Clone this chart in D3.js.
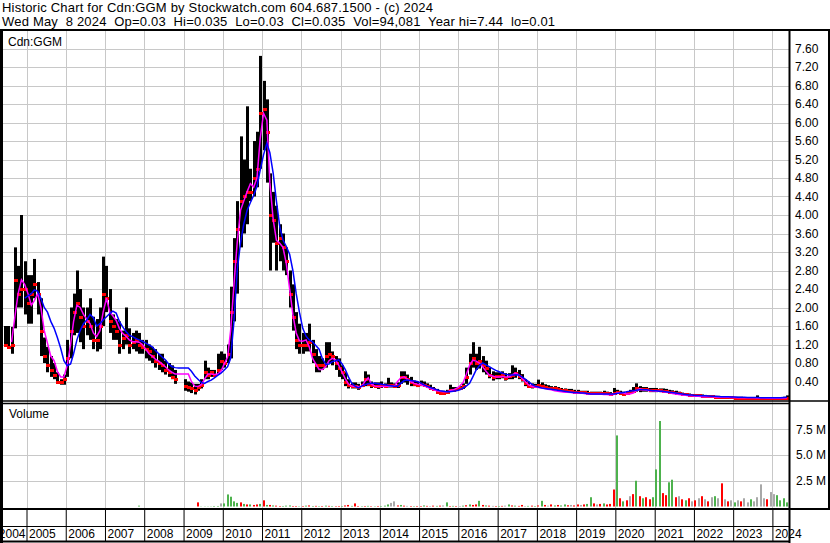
<!DOCTYPE html>
<html>
<head>
<meta charset="utf-8">
<script src="https://cdn.jsdelivr.net/npm/d3@7"></script>
<style>
  body { margin: 0; background: #fff; }
  text { font-family: "Liberation Sans", Arial, sans-serif; }
</style>
</head>
<body>
<svg id="chart" width="830" height="543"></svg>
<script>
// ---- data (one entry per month, Jun 2004 .. May 2024) ----
var headerLines = [
  "Historic Chart for Cdn:GGM by Stockwatch.com 604.687.1500 - (c) 2024",
  "Wed May  8 2024  Op=0.03  Hi=0.035  Lo=0.03  Cl=0.035  Vol=94,081  Year hi=7.44  lo=0.01"
];
var firstMonth = [2004, 5]; // June 2004

var priceHigh = [
  1.6, 1.6, 1.58, 3.3, 2.9, 4.0, 3.0,
  2.7, 2.7, 3.05, 2.55, 2.2, 1.35, 1.15, 0.95, 0.8, 0.6, 0.45, 0.55,
  1.3, 2.0, 2.3, 2.8, 2.4, 2.0, 2.0, 2.2, 1.8, 1.75, 2.0, 3.1,
  2.9, 2.4, 1.85, 1.75, 1.7, 1.5, 2.0, 1.55, 1.45, 1.5, 1.45, 1.3,
  1.3, 1.2, 1.15, 1.1, 1.0, 1.0, 0.85, 0.8, 0.75, 0.65, null, null,
  0.45, 0.4, 0.38, 0.35, 0.35, 0.45, 0.85, 0.7, 0.65, 0.65, 1.0, 1.05,
  1.0, 1.2, 2.45, 3.5, 4.3, 5.7, 5.2, 6.35, 5.0, 5.6, 5.8, 7.44,
  6.9, 6.5, 4.9, 4.5, 4.2, 3.8, 3.6, 3.3, 2.8, 2.5, 1.9, 1.65,
  1.45, 1.45, 1.65, 1.3, 1.1, 0.95, 0.9, 1.25, 1.25, 1.05, 0.95, 0.9,
  0.75, 0.6, 0.45, 0.38, 0.38, 0.35, 0.4, 0.62, 0.55, 0.4, 0.38, 0.38,
  0.4, 0.36, 0.48, 0.38, 0.36, 0.38, 0.62, 0.62, 0.55, 0.5, 0.42, 0.4,
  0.42, 0.4, 0.36, 0.33, 0.28, 0.24, 0.2, 0.2, 0.22, 0.33, 0.28, 0.28,
  0.3, 0.36, 0.7, 1.0, 1.25, 1.0, 1.15, 0.95, 0.85, 0.7, 0.62, 0.6,
  0.6, 0.62, 0.58, 0.58, 0.75, 0.7, 0.65, 0.56, 0.45, 0.4, 0.36, 0.35,
  0.44, 0.38, 0.34, 0.32, 0.3, 0.3, 0.28, 0.26, 0.25, 0.24, 0.24, 0.22,
  0.22, 0.2, 0.2, 0.2, 0.18, 0.18, 0.18, 0.18, 0.2, 0.18, 0.17, 0.26,
  0.22, 0.2, 0.18, 0.18, 0.22, 0.28, 0.36, 0.3, 0.28, 0.28, 0.26, 0.26,
  0.26, 0.25, 0.25, 0.24, 0.22, 0.21, 0.2, 0.18, 0.16, 0.15, 0.14, 0.13,
  0.13, 0.12, 0.12, 0.11, 0.1, 0.1, 0.09, 0.09, 0.08, 0.08, 0.08, 0.08,
  0.07, 0.07, 0.07, 0.06, 0.06, 0.06, 0.06, 0.1, 0.06, 0.06, 0.05, 0.05,
  0.05, 0.05, 0.06, 0.07, 0.1
];
var priceLow = [
  1.15, 1.15, 1.0, 1.55, 2.0, 2.0, 1.85,
  1.65, 1.65, 2.2, 1.85, 0.95, 0.8, 0.6, 0.5, 0.45, 0.35, 0.33, 0.33,
  0.5, 0.9, 1.4, 1.45, 1.25, 1.1, 1.4, 1.3, 1.1, 1.05, 1.1, 1.6,
  1.9, 1.45, 1.3, 1.3, 1.0, 1.1, 1.2, 1.0, 1.1, 1.05, 1.0, 1.0,
  0.9, 0.85, 0.8, 0.7, 0.65, 0.6, 0.55, 0.5, 0.45, 0.35, null, null,
  0.2, 0.18, 0.15, 0.12, 0.2, 0.25, 0.45, 0.45, 0.5, 0.5, 0.55, 0.65,
  0.7, 0.8, 0.9, 1.7, 2.3, 3.3, 3.6, 3.8, 4.3, 4.4, 4.6, 5.0,
  5.4, 4.7, 2.8, 3.4, 2.8, 3.0, 2.8, 2.7, 2.0, 1.5, 1.1, 1.0,
  1.0, 1.05, 1.05, 0.8, 0.6, 0.6, 0.65, 0.7, 0.8, 0.75, 0.65, 0.5,
  0.45, 0.3, 0.25, 0.25, 0.25, 0.22, 0.28, 0.3, 0.3, 0.26, 0.26, 0.24,
  0.26, 0.27, 0.27, 0.27, 0.26, 0.26, 0.35, 0.38, 0.33, 0.3, 0.3, 0.28,
  0.3, 0.3, 0.28, 0.22, 0.2, 0.14, 0.13, 0.13, 0.14, 0.18, 0.18, 0.2,
  0.22, 0.24, 0.35, 0.55, 0.7, 0.65, 0.68, 0.6, 0.55, 0.47, 0.42, 0.45,
  0.45, 0.47, 0.42, 0.45, 0.45, 0.48, 0.45, 0.4, 0.3, 0.26, 0.25, 0.26,
  0.27, 0.26, 0.25, 0.24, 0.22, 0.22, 0.2, 0.18, 0.18, 0.16, 0.16, 0.15,
  0.15, 0.14, 0.14, 0.14, 0.12, 0.12, 0.12, 0.12, 0.13, 0.12, 0.11, 0.12,
  0.13, 0.13, 0.1, 0.11, 0.13, 0.15, 0.18, 0.17, 0.18, 0.18, 0.17, 0.17,
  0.17, 0.17, 0.16, 0.16, 0.15, 0.14, 0.13, 0.12, 0.11, 0.1, 0.09, 0.09,
  0.09, 0.08, 0.08, 0.07, 0.07, 0.06, 0.06, 0.06, 0.05, 0.05, 0.05, 0.05,
  0.04, 0.04, 0.04, 0.04, 0.035, 0.035, 0.035, 0.03, 0.03, 0.03, 0.03, 0.03,
  0.025, 0.02, 0.02, 0.03, 0.01
];
var priceClose = [
  1.2, 1.15, 1.2, 2.6, 2.3, 2.4, 2.4,
  2.1, 2.3, 2.5, 2.3, 1.5, 0.95, 0.75, 0.65, 0.55, 0.4, 0.38, 0.45,
  0.9, 1.5, 1.9, 2.1, 1.8, 1.6, 1.7, 1.6, 1.3, 1.3, 1.6, 2.3,
  2.2, 1.7, 1.6, 1.5, 1.2, 1.35, 1.4, 1.2, 1.25, 1.3, 1.2, 1.15,
  1.1, 1.05, 0.95, 0.85, 0.8, 0.75, 0.65, 0.6, 0.5, 0.45, null, null,
  0.3, 0.28, 0.25, 0.22, 0.28, 0.33, 0.6, 0.55, 0.6, 0.55, 0.65, 0.85,
  0.8, 1.0, 1.9, 3.0, 3.7, 4.3, 4.4, 4.5, 4.5, 4.8, 5.0, 6.2,
  6.3, 5.8, 4.0, 3.9, 3.4, 3.5, 3.3, 3.0, 2.3, 1.8, 1.3, 1.2,
  1.2, 1.2, 1.25, 1.0, 0.75, 0.75, 0.75, 0.95, 1.0, 0.95, 0.8, 0.7,
  0.6, 0.4, 0.32, 0.3, 0.3, 0.28, 0.33, 0.45, 0.35, 0.32, 0.3, 0.3,
  0.32, 0.3, 0.32, 0.32, 0.3, 0.32, 0.5, 0.5, 0.45, 0.38, 0.35, 0.33,
  0.35, 0.33, 0.3, 0.26, 0.23, 0.18, 0.16, 0.16, 0.18, 0.22, 0.22, 0.24,
  0.26, 0.3, 0.5, 0.8, 0.9, 0.8, 0.85, 0.75, 0.7, 0.55, 0.5, 0.52,
  0.52, 0.55, 0.48, 0.52, 0.55, 0.58, 0.52, 0.45, 0.36, 0.3, 0.3, 0.3,
  0.33, 0.3, 0.28, 0.27, 0.25, 0.25, 0.23, 0.21, 0.21, 0.2, 0.19, 0.18,
  0.18, 0.17, 0.17, 0.16, 0.15, 0.15, 0.15, 0.15, 0.16, 0.15, 0.14, 0.16,
  0.17, 0.16, 0.13, 0.15, 0.17, 0.2, 0.26, 0.24, 0.23, 0.23, 0.22, 0.22,
  0.22, 0.21, 0.2, 0.2, 0.18, 0.17, 0.16, 0.15, 0.13, 0.12, 0.11, 0.11,
  0.1, 0.1, 0.09, 0.09, 0.08, 0.08, 0.07, 0.07, 0.06, 0.06, 0.06, 0.06,
  0.05, 0.05, 0.05, 0.05, 0.045, 0.045, 0.045, 0.05, 0.045, 0.04, 0.04, 0.04,
  0.035, 0.03, 0.035, 0.04, 0.035
];
// magenta (short) and blue (long) moving averages as drawn
var maFast = [
  null, null, 1.25, 1.8, 2.3, 2.6, 2.5,
  2.3, 2.05, 2.15, 2.3, 2.0, 1.5, 1.23, 0.95, 0.85, 0.62, 0.5, 0.5,
  0.75, 1.2, 1.7, 2.05, 2.0, 1.85, 1.75, 1.65, 1.45, 1.37, 1.5, 1.9,
  2.2, 1.9, 1.82, 1.72, 1.55, 1.44, 1.38, 1.3, 1.26, 1.26, 1.25, 1.2,
  1.1, 1.0, 0.95, 0.88, 0.84, 0.78, 0.72, 0.65, 0.6, 0.56, 0.56, 0.56,
  0.56, 0.56, 0.4, 0.3, 0.29, 0.33, 0.45, 0.56, 0.56, 0.55, 0.56, 0.62,
  0.78, 0.93, 1.5, 2.5, 3.4, 4.1, 4.3, 4.5, 4.68, 4.6, 4.8, 5.65,
  6.2, 6.05, 4.7, 3.9, 3.45, 3.39, 3.3, 2.95, 2.4, 1.85, 1.45, 1.28,
  1.27, 1.3, 1.15, 0.9, 0.78, 0.66, 0.66, 0.72, 0.85, 0.9, 0.87, 0.75,
  0.6, 0.45, 0.35, 0.3, 0.29, 0.29, 0.29, 0.4, 0.48, 0.34, 0.3, 0.29,
  0.29, 0.29, 0.3, 0.3, 0.3, 0.4, 0.48, 0.5, 0.45, 0.4, 0.36, 0.34,
  0.33, 0.31, 0.28, 0.25, 0.22, 0.2, 0.19, 0.18, 0.18, 0.2, 0.22, 0.25,
  0.3, 0.38, 0.55, 0.75, 0.86, 0.84, 0.8, 0.72, 0.62, 0.54, 0.52, 0.5,
  0.5, 0.51, 0.5, 0.5, 0.54, 0.58, 0.55, 0.47, 0.4, 0.33, 0.29, 0.28,
  0.27, 0.26, 0.25, 0.23, 0.22, 0.2, 0.19, 0.18, 0.17, 0.17, 0.16, 0.15,
  0.15, 0.15, 0.14, 0.13, 0.13, 0.13, 0.13, 0.13, 0.12, 0.12, 0.11, 0.12,
  0.15, 0.16, 0.15, 0.13, 0.13, 0.15, 0.2, 0.24, 0.22, 0.21, 0.2, 0.2,
  0.19, 0.19, 0.18, 0.17, 0.16, 0.14, 0.13, 0.12, 0.11, 0.1, 0.09, 0.09,
  0.08, 0.08, 0.07, 0.07, 0.07, 0.07, 0.065, 0.06, 0.06, 0.06, 0.06, 0.055,
  0.055, 0.05, 0.05, 0.05, 0.05, 0.05, 0.05, 0.045, 0.045, 0.045, 0.04, 0.04,
  0.04, 0.04, 0.04, 0.045, 0.05
];
var maSlow = [
  null, null, null, null, null, null, 2.2,
  2.25, 2.3, 2.38, 2.35, 2.2, 2.0, 1.9, 1.7, 1.55, 1.35, 1.12, 0.85,
  0.74, 0.78, 1.0, 1.3, 1.5, 1.65, 1.73, 1.85, 1.78, 1.6, 1.65, 1.73,
  1.8, 1.87, 1.92, 1.88, 1.7, 1.58, 1.48, 1.4, 1.37, 1.33, 1.3, 1.27,
  1.23, 1.19, 1.15, 1.07, 1.0, 0.93, 0.87, 0.78, 0.72, 0.7, 0.69, 0.69,
  0.69, 0.69, 0.62, 0.52, 0.45, 0.38, 0.36, 0.4, 0.43, 0.48, 0.53, 0.58,
  0.65, 0.72, 0.9, 1.7, 2.8, 3.4, 3.8, 4.1, 4.27, 4.42, 4.62, 4.97,
  5.3, 5.55, 5.35, 4.9, 4.3, 3.75, 3.46, 3.32, 3.15, 2.8, 2.3, 1.9,
  1.55, 1.38, 1.3, 1.26, 1.18, 1.1, 0.9, 0.77, 0.78, 0.83, 0.85, 0.87,
  0.78, 0.65, 0.5, 0.36, 0.3, 0.26, 0.3, 0.33, 0.35, 0.36, 0.36, 0.35,
  0.34, 0.33, 0.32, 0.31, 0.3, 0.3, 0.36, 0.42, 0.43, 0.42, 0.41, 0.4,
  0.37, 0.33, 0.3, 0.27, 0.25, 0.22, 0.2, 0.19, 0.18, 0.18, 0.19, 0.2,
  0.22, 0.26, 0.3, 0.36, 0.5, 0.65, 0.74, 0.8, 0.76, 0.72, 0.68, 0.64,
  0.61, 0.58, 0.56, 0.54, 0.54, 0.54, 0.54, 0.5, 0.45, 0.4, 0.34, 0.3,
  0.28, 0.26, 0.25, 0.24, 0.23, 0.22, 0.21, 0.2, 0.19, 0.18, 0.17, 0.16,
  0.16, 0.15, 0.15, 0.14, 0.13, 0.13, 0.13, 0.13, 0.13, 0.13, 0.13, 0.13,
  0.14, 0.15, 0.16, 0.18, 0.19, 0.2, 0.21, 0.22, 0.22, 0.22, 0.21, 0.2,
  0.2, 0.19, 0.19, 0.18, 0.17, 0.16, 0.15, 0.14, 0.13, 0.12, 0.11, 0.11,
  0.1, 0.1, 0.09, 0.09, 0.085, 0.08, 0.08, 0.075, 0.07, 0.07, 0.07, 0.065,
  0.065, 0.06, 0.06, 0.06, 0.055, 0.055, 0.055, 0.055, 0.05, 0.05, 0.05, 0.05,
  0.05, 0.05, 0.05, 0.055, 0.06
];
// volume in millions of shares, G = up, R = down, N = unchanged
var volume = [
  0, 0, 0, 0, 0, 0, 0,
  0, 0, 0, 0, 0, 0, 0, 0, 0, 0, 0, 0,
  0, 0, 0, 0, 0, 0, 0, 0, 0, 0, 0, 0,
  0, 0, 0, 0, 0, 0, 0, 0, 0, 0, 0.08, 0,
  0, 0, 0, 0, 0, 0, 0, 0, 0, 0, 0, 0,
  0, 0, 0, 0, 0.4, 0.02, 0.02, 0.02, 0.02, 0.05, 0.05, 0.3,
  0.3, 1.17, 0.95, 0.5, 0.35, 0.4, 0.25, 0.2, 0.2, 0.15, 0.2, 0.25,
  0.6, 0.15, 0.15, 0.1, 0.08, 0.05, 0.05, 0.08, 0.1, 0.05, 0.05, 0.03,
  0.05, 0.08, 0.1, 0.05, 0.06, 0.04, 0.05, 0.08, 0.06, 0.05, 0.04, 0.05,
  0.05, 0.1, 0.15, 0.06, 0.3, 0.05, 0.04, 0.05, 0.06, 0.04, 0.03, 0.05,
  0.05, 0.08, 0.2, 0.35, 0.5, 0.1, 0.15, 0.08, 0.06, 0.05, 0.04, 0.05,
  0.05, 0.1, 0.06, 0.05, 0.08, 0.06, 0.08, 0.1, 0.4, 0.05, 0.06, 0.05,
  0.05, 0.08, 0.12, 0.2, 0.15, 0.2, 0.55, 0.15, 0.1, 0.08, 0.06, 0.05,
  0.05, 0.06, 0.08, 0.2, 0.1, 0.08, 0.06, 0.15, 0.05, 0.06, 0.08, 0.05,
  0.1, 0.55, 0.15, 0.08, 0.2, 0.1, 0.15, 0.1, 0.2, 0.12, 0.15, 0.1,
  0.2, 0.15, 0.2, 0.25, 0.9, 0.3, 0.2, 0.25, 0.3, 0.2, 0.25, 1.65,
  6.9, 0.8, 0.5, 0.6, 1.0, 1.2, 2.5, 1.0, 0.8, 0.9, 0.7, 0.9,
  3.6, 8.3, 1.3, 1.1, 2.35, 2.6, 0.9, 1.0, 0.7, 0.6, 0.8, 0.5,
  0.6, 0.8, 1.0, 0.7, 0.5, 0.9, 1.0, 0.8, 2.25, 0.7, 0.5, 0.6,
  0.4, 0.6, 0.5, 0.8, 0.4, 0.7, 0.5, 0.9, 2.15, 0.8, 0.7, 1.4,
  1.2, 1.1, 0.6, 0.8, 0.4
];
var volumeColor = (
  "GGGGGGG" +
  "GGGGGGGGGGGG" + "GGGGGGGGGGGG" + "GGGGGGGGGGGG" + "GGGGGGGGGGGG" +
  "GGGGRGGGGGGN" +
  "GGGGGRGRGRRG" + "RGRGRRGGGRRG" + "RGRGRGRGRGRR" + "GRRGRRGRGRGR" +
  "GGGNNRGRNRGR" + "RGRNRGRNGRGR" + "NGRGRRGRGRNR" + "GRNGRGRRNGRG" +
  "RGRNRGRGGRNR" + "RNRGGRNRGRRR" + "GRGRNRGRGRRG" + "GGRRGGRNRGRN" +
  "RNRNRNGNRNRN" + "GNRNNGNNNNRN" +
  "NGGGG"
).split("");

var priceTicks = [0.4, 0.8, 1.2, 1.6, 2.0, 2.4, 2.8, 3.2, 3.6, 4.0,
                  4.4, 4.8, 5.2, 5.6, 6.0, 6.4, 6.8, 7.2, 7.6];
var volumeTicks = [2.5, 5.0, 7.5];
var yearLabels = [2004, 2005, 2006, 2007, 2008, 2009, 2010, 2011, 2012, 2013, 2014,
                  2015, 2016, 2017, 2018, 2019, 2020, 2021, 2022, 2023, 2024];

// ---- layout ----
var W = 830, H = 543;
var plotL = 2, plotR = 789, frameTop = 30;
var priceTop = 30, priceBot = 400;
var volTop = 403.5, volZero = 506.5, volBot = 509;
var bandBot = 526.5, frameBot = 541.5;

var svg = d3.select("#chart");
svg.append("rect").attr("width", W).attr("height", H).attr("fill", "#fff");

var months = priceClose.map(function(c, i) {
  return {
    date: new Date(firstMonth[0], firstMonth[1] + i, 15),
    hi: priceHigh[i], lo: priceLow[i], cl: c,
    fast: maFast[i], slow: maSlow[i],
    vol: volume[i], vcol: volumeColor[i]
  };
});

// scales
var x = d3.scaleTime()
    .domain([new Date(2005, 0, 1), new Date(2024, 0, 1)])
    .range([26.5, 772.4]);
var yP = d3.scaleLinear().domain([0, 8]).range([priceBot, priceTop]);
var yV = d3.scaleLinear().domain([0, 10]).range([volZero, volTop]);

var px = function(v) { return Math.round(v) + 0.5; };
var yearDates = yearLabels.slice(1).map(function(y) { return new Date(y, 0, 1); });

// header (two lines, double spaces kept)
svg.selectAll(".hdr").data(headerLines).enter().append("text")
    .attr("class", "hdr")
    .attr("x", 2)
    .attr("y", function(d, i) { return 11.5 + i * 14.5; })
    .attr("xml:space", "preserve")
    .style("font-size", "13px")
    .style("letter-spacing", "0.2px")
    .style("white-space", "pre")
    .attr("fill", "#000")
    .text(function(d) { return d; });

// clip for the two panels
var defs = svg.append("defs");
defs.append("clipPath").attr("id", "clipP").append("rect")
    .attr("x", plotL).attr("y", priceTop).attr("width", plotR - plotL).attr("height", priceBot - priceTop);
defs.append("clipPath").attr("id", "clipV").append("rect")
    .attr("x", plotL).attr("y", volTop).attr("width", plotR - plotL).attr("height", volBot - volTop);

// grid lines
var grid = svg.append("g").attr("stroke", "#c8c8c8").attr("stroke-width", 1);
grid.selectAll(".gp").data(priceTicks).enter().append("line")
    .attr("x1", plotL).attr("x2", plotR)
    .attr("y1", function(d) { return px(yP(d)); }).attr("y2", function(d) { return px(yP(d)); });
grid.selectAll(".gv").data(volumeTicks).enter().append("line")
    .attr("x1", plotL).attr("x2", plotR)
    .attr("y1", function(d) { return px(yV(d)); }).attr("y2", function(d) { return px(yV(d)); });
grid.selectAll(".gx").data(yearDates).enter().append("line")
    .attr("x1", function(d) { return px(x(d)); }).attr("x2", function(d) { return px(x(d)); })
    .attr("y1", priceTop).attr("y2", volBot);

// price bars (high-low) and closes
var pg = svg.append("g").attr("clip-path", "url(#clipP)");
var traded = months.filter(function(d) { return d.hi != null; });
pg.selectAll(".bar").data(traded).enter().append("rect")
    .attr("x", function(d) { return Math.round(x(d.date)) - 1; })
    .attr("width", 3)
    .attr("y", function(d) { return yP(d.hi); })
    .attr("height", function(d) { return Math.max(1, yP(d.lo) - yP(d.hi)); })
    .attr("fill", "#000");
pg.selectAll(".cl").data(traded).enter().append("rect")
    .attr("x", function(d) { return Math.round(x(d.date)) - 1; })
    .attr("width", 4)
    .attr("y", function(d) { return Math.round(yP(d.cl)) - 1; })
    .attr("height", 3)
    .attr("fill", "#ff0000");

// moving averages
var maLine = function(key) {
  return d3.line()
    .defined(function(d) { return d[key] != null; })
    .x(function(d) { return x(d.date); })
    .y(function(d) { return yP(d[key]); });
};
pg.append("path").datum(months)
    .attr("d", maLine("fast"))
    .attr("fill", "none").attr("stroke", "#ff00ff").attr("stroke-width", 1.5);
pg.append("path").datum(months)
    .attr("d", maLine("slow"))
    .attr("fill", "none").attr("stroke", "#0000ff").attr("stroke-width", 1.5);

svg.append("text").attr("x", 8).attr("y", 46).style("font-size", "12px").text("Cdn:GGM");

// volume bars
var colors = { G: "#4db24d", R: "#ff0000", N: "#a8a8a8" };
var vg = svg.append("g").attr("clip-path", "url(#clipV)");
vg.selectAll(".vb").data(months.filter(function(d) { return d.vol > 0; })).enter().append("rect")
    .attr("x", function(d) { return Math.round(x(d.date)) - 1; })
    .attr("width", 2)
    .attr("y", function(d) { return yV(d.vol); })
    .attr("height", function(d) { return yV(0) - yV(d.vol); })
    .attr("fill", function(d) { return colors[d.vcol]; });

svg.append("text").attr("x", 9).attr("y", 418).style("font-size", "12px").text("Volume");

// right axes
var priceAxis = d3.axisRight(yP).tickValues(priceTicks).tickSize(0).tickPadding(6)
    .tickFormat(d3.format(".2f"));
var gpa = svg.append("g").attr("transform", "translate(" + plotR + ",0)").call(priceAxis);
gpa.select(".domain").remove();
gpa.selectAll("text").style("font-size", "12px").attr("fill", "#000")
    .attr("font-family", null);

var volAxis = d3.axisRight(yV).tickValues(volumeTicks).tickSize(0).tickPadding(7)
    .tickFormat(function(d) { return d3.format(".1f")(d) + " M"; });
var gva = svg.append("g").attr("transform", "translate(" + plotR + ",0)").call(volAxis);
gva.select(".domain").remove();
gva.selectAll("text").style("font-size", "12px").attr("fill", "#000")
    .attr("font-family", null);

// year axis: separators through the band and the label row
var yearAxis = d3.axisBottom(x).tickValues(yearDates).tickSize(frameBot - volBot)
    .tickFormat(d3.timeFormat("%Y"));
var gx = svg.append("g").attr("transform", "translate(0," + volBot + ")").call(yearAxis);
gx.select(".domain").remove();
gx.selectAll(".tick line").attr("stroke", "#000");
gx.selectAll(".tick text")
    .attr("y", 29).attr("x", 2).attr("dy", 0)
    .attr("text-anchor", "start")
    .attr("fill", "#000")
    .attr("font-family", null)
    .style("font-size", "12px");
svg.append("text")
    .attr("x", x(yearDates[0]) - 1).attr("y", volBot + 29)
    .attr("text-anchor", "end").style("font-size", "12px")
    .text(yearLabels[0]);

// frame
var frame = svg.append("g").attr("stroke", "#000").attr("fill", "none");
frame.append("line").attr("x1", 0).attr("x2", W).attr("y1", frameTop).attr("y2", frameTop).attr("stroke-width", 2);
frame.append("line").attr("x1", 1.5).attr("x2", 1.5).attr("y1", frameTop).attr("y2", H).attr("stroke-width", 3);
frame.append("line").attr("x1", plotR + 0.5).attr("x2", plotR + 0.5).attr("y1", frameTop).attr("y2", H).attr("stroke-width", 2);
frame.append("line").attr("x1", W - 1).attr("x2", W - 1).attr("y1", frameTop).attr("y2", volBot).attr("stroke-width", 2);
frame.append("line").attr("x1", 0).attr("x2", W).attr("y1", 401).attr("y2", 401).attr("stroke-width", 1.3);
frame.append("line").attr("x1", 0).attr("x2", plotR).attr("y1", 403.5).attr("y2", 403.5).attr("stroke-width", 1.3);
frame.append("line").attr("x1", 0).attr("x2", W).attr("y1", volBot).attr("y2", volBot).attr("stroke-width", 2);
frame.append("line").attr("x1", 0).attr("x2", plotR).attr("y1", bandBot).attr("y2", bandBot).attr("stroke-width", 1);
frame.append("line").attr("x1", 0).attr("x2", plotR).attr("y1", frameBot).attr("y2", frameBot).attr("stroke-width", 2);
</script>
</body>
</html>
